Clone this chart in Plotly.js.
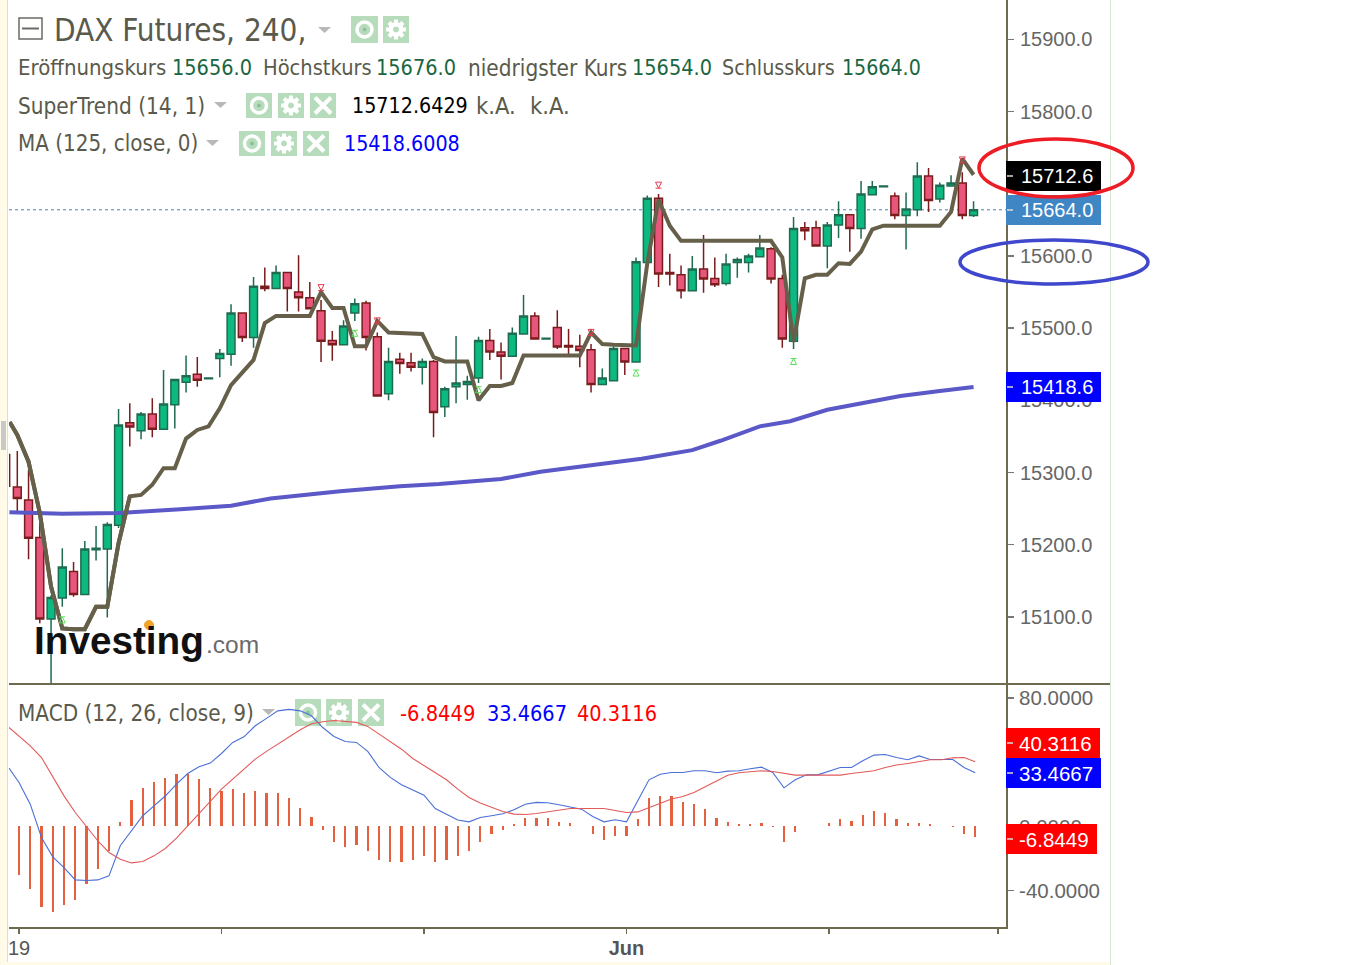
<!DOCTYPE html>
<html><head><meta charset="utf-8">
<script src="https://cdn.plot.ly/plotly-3.0.1.min.js"></script>
<style>html,body{margin:0;padding:0;background:#fff}#c{width:1366px;height:965px}</style>
</head><body><div id="c"></div>
<script>
// ---------- price series (OHLC per 240-minute bar) ----------
const opens=[15280,15262,15210,15097,15126,15163,15131,15193,15194,15227,15369,15358,15381,15360,15394,15425,15436,15430,15458,15464,15521,15487,15558,15555,15577,15550,15542,15524,15483,15477,15521,15535,15488,15409,15457,15452,15446,15454,15391,15419,15422,15431,15483,15467,15461,15492,15517,15485,15501,15476,15475,15470,15422,15427,15472,15453,15591,15680,15577,15574,15552,15582,15569,15562,15591,15591,15599,15610,15569,15482,15639,15639,15614,15643,15657,15638,15685,15696,15683,15656,15664,15711,15679,15697,15701,15656];
const highs=[15330,15304,15230,15130,15195,15176,15205,15226,15231,15388,15396,15384,15403,15442,15429,15462,15460,15431,15471,15533,15521,15571,15584,15587,15577,15601,15564,15539,15496,15511,15541,15538,15494,15473,15466,15466,15458,15456,15419,15489,15434,15488,15499,15480,15501,15546,15522,15486,15525,15499,15491,15478,15444,15475,15472,15598,15684,15686,15603,15587,15600,15629,15598,15603,15598,15603,15629,15612,15574,15654,15647,15649,15647,15676,15657,15704,15704,15697,15688,15688,15730,15722,15702,15712,15716,15676];
const lows=[15246,15180,15091,15008,15114,15128,15131,15178,15099,15223,15336,15346,15349,15360,15361,15411,15419,15430,15432,15448,15481,15473,15551,15555,15523,15523,15527,15453,15455,15477,15510,15469,15406,15400,15437,15440,15422,15349,15377,15396,15401,15424,15456,15429,15461,15492,15485,15485,15471,15462,15446,15411,15422,15427,15435,15453,15591,15557,15559,15541,15552,15549,15557,15559,15570,15577,15599,15562,15473,15471,15622,15614,15583,15625,15606,15624,15685,15696,15651,15609,15655,15661,15674,15697,15651,15654];
const closes=[15264,15209,15097,15127,15169,15131,15194,15195,15228,15366,15363,15381,15360,15395,15429,15434,15428,15431,15465,15521,15487,15558,15555,15577,15555,15542,15527,15482,15477,15503,15534,15487,15406,15454,15451,15446,15454,15383,15416,15424,15426,15483,15467,15461,15493,15517,15485,15486,15474,15474,15469,15422,15431,15472,15453,15592,15680,15575,15575,15552,15582,15568,15560,15589,15595,15600,15611,15568,15485,15638,15635,15614,15643,15657,15638,15686,15696,15697,15656,15665,15711,15677,15698,15701,15656,15664];
const superTrend=[15352,15315,15244,15142,15084,15083,15083,15114,15114,15202,15267,15269,15283,15306,15306,15347,15359,15364,15389,15421,15438,15456,15507,15517,15517,15517,15517,15550,15528,15528,15475,15475,15510,15494,15493,15493,15492,15460,15454,15454,15454,15400,15420,15420,15424,15462,15462,15462,15462,15462,15462,15494,15478,15477,15476,15476,15590,15678,15642,15621,15621,15621,15621,15621,15621,15621,15621,15621,15598,15481,15569,15574,15574,15590,15589,15606,15637,15642,15642,15642,15642,15642,15642,15661,15735,15712.6];
const superTrendLead=15370;
const maBars=[-0.7,1,4,9,10.5,13,14.5,19,22.5,28.7,34,37.5,43,46.5,52,55.5,60,62.5,66,68.7,72,76.7,78.5,82,85];
const maValues=[15245,15244,15243,15244,15245,15247,15249,15254,15264,15274,15281,15284,15291,15301,15312,15319,15331,15344,15364,15371,15387,15400,15406,15413,15418.6];
const edgeWickBar=[-0.68,-0.68];
const edgeWickPrice=[15326,15280];
const upArrowBars=[4,30,41,55,69];
const upArrowPrices=[15100,15497,15419,15442,15458];
const downArrowBars=[27,32,51,57,84];
const downArrowPrices=[15552,15506,15490,15694,15729];
const lastPrice=15664.0;
const priceTicks=[15100,15200,15300,15400,15500,15600,15800,15900];
// ---------- MACD pane ----------
const macdHist=[-30,-38.7,-50,-53.6,-48.9,-45.7,-36,-26.8,-15.2,3.1,16.4,24.3,28,30,32.6,32.6,29.5,24.3,22.2,23.3,20.8,22,20.8,20.8,17.7,11.4,5.8,-2,-9.4,-12.5,-11.4,-15.2,-20.8,-22,-22,-20.8,-18.7,-22,-20.8,-18.5,-15.2,-9.4,-4.6,-2,1.5,5.6,5.6,5.6,3.1,1.9,0,-4.8,-8.3,-5.8,-5.8,4.6,17.5,18.7,18.7,15,14,10.8,5.6,3.1,1.5,1.5,2,-0.6,-9.4,-3.3,0,0,2,4.6,3.5,7,9.4,8.3,4.6,2,2,1.5,0,-0.6,-4.4,-6.8449];
const macdLine=[27.4,13.9,-6.9,-18.9,-25.6,-33.3,-33.7,-33.3,-30.8,-12,-2.7,6.7,12.9,19,26.4,33,37.2,39.5,45.5,52.4,55.9,62.8,67.4,72.1,73,72.1,69,61.7,56.1,53,52.4,46.8,36.8,30.6,26,22.7,19.5,11.2,7.7,4,2.9,5.6,6.7,7.9,10.4,13.9,15,14.8,13.5,12.3,10.8,6.2,2.9,4.2,2.9,16,29.1,32.6,33.7,33.7,34.7,34.7,33.5,34.5,34.7,36,37,33.7,24.1,29.1,32.2,32.2,34.7,36.8,36.8,41,44.5,44.9,43,41.6,44,41.8,41.8,41.8,36.8,33.4667];
const signalLine=[56.5,50.3,43,31.2,19.1,8.7,0,-8.9,-16.2,-20.4,-22.7,-21.8,-18.3,-13.7,-7.3,0.4,8.3,16,23.3,29.5,35.8,42,46.8,51.4,56.1,60.3,64,65.3,66.1,65.7,64.9,62.4,57.6,52.8,48.2,42.4,37.8,33.7,29.1,23.3,18.1,14.6,11.9,9.4,7.7,7.5,8.1,9.1,10.4,11.2,11.2,11.2,11.2,10,8.7,9.1,11.9,14.6,17.1,18.7,21.2,24.7,28.5,32,33.5,33.9,34.7,34.3,33,32,32,32,32,32,33,33.7,34.7,36.8,38.3,39.3,40.5,41.6,41.6,42.8,43,40.3116];
const macdLead=36.4, signalLead=61.7;
const macdTickVals=[80,40,0,-40];
const macdTickText=['80.0000','40.0000','0.0000','-40.0000'];
const timeTickBars=[0,18,36,54,72,87];
const timeTickText=['19','','','<b>Jun</b>','',''];

const bars=opens.map((_,i)=>i);
const W=1366,H=965;
const px=x=>x/W, py=y=>1-y/H;
const AX='#6e6a50', TXT='#5a5a4c', ICON='#b6dcbc', UI='DejaVu Sans Condensed, Noto Sans, sans-serif', NUM='Liberation Sans, Arial, sans-serif';
const ST='#66604a';

const traces=[
 {type:'scatter',mode:'lines',x:edgeWickBar,y:edgeWickPrice,line:{color:'#7a1c1c',width:1.5},xaxis:'x',yaxis:'y',hoverinfo:'skip'},
 {type:'scatter',mode:'lines',x:maBars,y:maValues,line:{color:'#5b58c8',width:4},xaxis:'x',yaxis:'y',hoverinfo:'skip'},
 {type:'scatter',mode:'lines',x:[-0.68].concat(bars),y:[superTrendLead].concat(superTrend),line:{color:ST,width:4},xaxis:'x',yaxis:'y',hoverinfo:'skip'},
 {type:'candlestick',x:bars,open:opens,high:highs,low:lows,close:closes,whiskerwidth:0,
  increasing:{line:{color:'#1f6b50',width:1.5},fillcolor:'#0cb981'},
  decreasing:{line:{color:'#7a1c1c',width:1.5},fillcolor:'#e8567c'},xaxis:'x',yaxis:'y',hoverinfo:'skip'},
 // the falling stretch of the trend line sits in front of the candles
 {type:'scatter',mode:'lines',x:[-0.68].concat(bars.slice(0,11)),y:[superTrendLead].concat(superTrend.slice(0,11)),line:{color:ST,width:4},xaxis:'x',yaxis:'y',hoverinfo:'skip'},
 {type:'scatter',mode:'markers',x:upArrowBars,y:upArrowPrices,marker:{symbol:'arrow-bar-up-open',size:6,color:'#5be05b',line:{color:'#5be05b',width:1}},xaxis:'x',yaxis:'y',hoverinfo:'skip'},
 {type:'scatter',mode:'markers',x:downArrowBars,y:downArrowPrices,marker:{symbol:'arrow-bar-down-open',size:6,color:'#e83a50',line:{color:'#e83a50',width:1}},xaxis:'x',yaxis:'y',hoverinfo:'skip'},
 {type:'bar',x:bars,y:macdHist,width:0.18,marker:{color:'#e4603f',line:{width:0}},xaxis:'x2',yaxis:'y2',hoverinfo:'skip'},
 {type:'scatter',mode:'lines',x:[-0.889].concat(bars),y:[macdLead].concat(macdLine),line:{color:'#4a6fd6',width:1.1},xaxis:'x2',yaxis:'y2',hoverinfo:'skip'},
 {type:'scatter',mode:'lines',x:[-0.889].concat(bars),y:[signalLead].concat(signalLine),line:{color:'#e25a5a',width:1.1},xaxis:'x2',yaxis:'y2',hoverinfo:'skip'}
];

const shapes=[], ann=[];
const rectP=(x0,y0,x1,y1,fill,layer)=>shapes.push({type:'rect',xref:'paper',yref:'paper',x0:px(x0),x1:px(x1),y0:py(y0),y1:py(y1),fillcolor:fill,line:{width:0},layer:layer||'below'});
const lineP=(x0,y0,x1,y1,col,w,layer)=>shapes.push({type:'line',xref:'paper',yref:'paper',x0:px(x0),x1:px(x1),y0:py(y0),y1:py(y1),line:{color:col,width:w},layer:layer||'below'});
const circP=(cx,cy,rx,ry,fill,lc,lw,layer)=>shapes.push({type:'circle',xref:'paper',yref:'paper',x0:px(cx-rx),x1:px(cx+rx),y0:py(cy-ry),y1:py(cy+ry),fillcolor:fill,line:{color:lc,width:lw},layer:layer||'below'});
const tri=(x,y)=>shapes.push({type:'path',xref:'paper',yref:'paper',path:`M ${px(x)} ${py(y)} L ${px(x+13)} ${py(y)} L ${px(x+6.5)} ${py(y+6)} Z`,fillcolor:'#b8b8b8',line:{width:0},layer:'below'});
const txt=(x,y,t,size,col,fam)=>ann.push({xref:'paper',yref:'paper',x:px(x),y:py(y),xanchor:'left',yanchor:'middle',text:t,showarrow:false,font:{size:size,color:col,family:fam||UI},borderpad:0});

// page frame
rectP(0,0,7,965,'#fffbe8'); lineP(7.5,0,7.5,965,'#d8e4c8',1);
lineP(1110.5,0,1110.5,965,'#d6e8d2',1);
rectP(0,962,1110,965,'#fffbe8');
rectP(1,421,6,450,'#c8c8c8');
// icons
function icon(x,y,kind,w,h){rectP(x,y,x+w,y+h,ICON);const cx=x+w/2,cy=y+h/2;
 if(kind==='eye'){circP(cx,cy,7.5,7.5,'rgba(0,0,0,0)','#ffffff',3.5);circP(cx,cy,1.5,1.5,'#8fbf9a','#8fbf9a',1);}
 if(kind==='gear'){lineP(cx-10,cy,cx+10,cy,'#ffffff',4);lineP(cx,cy-10,cx,cy+10,'#ffffff',4);lineP(cx-7,cy-7,cx+7,cy+7,'#ffffff',4);lineP(cx-7,cy+7,cx+7,cy-7,'#ffffff',4);circP(cx,cy,7,7,'#ffffff','#ffffff',1);circP(cx,cy,2.5,2.5,ICON,ICON,1);}
 if(kind==='x'){lineP(cx-8,cy-8,cx+8,cy+8,'#ffffff',4);lineP(cx-8,cy+8,cx+8,cy-8,'#ffffff',4);}
}
icon(351,16,'eye',27,27);icon(383,16,'gear',26,27);
icon(246,93,'eye',26,25);icon(278,93,'gear',26,25);icon(310,93,'x',26,25);
icon(239,131,'eye',26,25);icon(271,131,'gear',26,25);icon(303,131,'x',26,25);
icon(295,699,'eye',26,27);icon(326,699,'gear',26,27);icon(358,699,'x',26,27);
tri(318,27);tri(214,102);tri(206,140);tri(262,709);
// collapse box
shapes.push({type:'rect',xref:'paper',yref:'paper',x0:px(19),x1:px(42),y0:py(18),y1:py(39),line:{color:'#6a6a66',width:1.5},fillcolor:'rgba(0,0,0,0)'});
lineP(22,28.5,39,28.5,'#6a6a66',2,'above');
// last price line
shapes.push({type:'line',xref:'x',yref:'y',x0:-0.738,x1:87.884,y0:lastPrice,y1:lastPrice,line:{color:'#4a7fb5',width:1,dash:'dot'},layer:'below'});
// separators
lineP(9,684,1110,684,AX,2,'above');

// header text
const G='#1a6640';
txt(53,30,'DAX Futures, 240,',31.2,TXT);
txt(17,68,'Eröffnungskurs',22,TXT);txt(170.5,68,'15656.0',21.5,G);
txt(261.5,68,'Höchstkurs',21.7,TXT);txt(375.5,68,'15676.0',21.5,G);
txt(466.5,68,'niedrigster Kurs',22.4,TXT);txt(630.5,68,'15654.0',21.5,G);
txt(720.5,68,'Schlusskurs',21.3,TXT);txt(840.5,68,'15664.0',21.2,G);
txt(16.5,106,'SuperTrend (14, 1)',22.4,TXT);txt(350.5,106,'15712.6429',21.3,'#000000');
txt(475.5,106,'k.A.',23.5,TXT);txt(528.5,106,'k.A.',23.5,TXT);
txt(16.5,143,'MA (125, close, 0)',22.2,TXT);txt(343.5,143,'15418.6008',21.3,'#0000ff');
txt(16.5,713,'MACD (12, 26, close, 9)',22.3,TXT);
txt(398.5,713,'-6.8449',21.7,'#ff0000');txt(485.5,713,'33.4667',21.5,'#0000ff');txt(575.5,713,'40.3116',21.5,'#ff0000');

// logo
txt(33,640,'<b>Investing</b>',38.7,'#111111',NUM);
txt(205,644,'.com',24.5,'#6a6a6a',NUM);
circP(149,625,4.5,4.5,'#f0a428','#f0a428',1,'above');

// price / value flags
function flag(x1,y0,y1,fill,t,tx,fs){rectP(1006,y0,x1,y1,fill,'above');lineP(1007,(y0+y1)/2,1013,(y0+y1)/2,'#dddddd',1.5,'above');txt(tx,(y0+y1)/2,t,fs||20,'#ffffff',NUM);}
flag(1101,161,191,'#000000','15712.6',1019.5);
flag(1101,195,225,'#3f86c4','15664.0',1019.5);
flag(1101,372,402,'#0000ff','15418.6',1019.5);
flag(1100,728,758,'#ff0000','40.3116',1018,20.5);
flag(1101,758,788,'#0000ff','33.4667',1018,20.5);
flag(1097,824,854,'#ff0000','-6.8449',1018,20.5);
// hand-drawn ellipses
circP(1056,168,77,29,'rgba(0,0,0,0)','#ee1c25',3.5,'above');
circP(1054,262,94,22,'rgba(0,0,0,0)','#3f48cc',3.5,'above');

const layout={
 width:W,height:H,margin:{l:0,r:0,t:0,b:0,pad:0},paper_bgcolor:'#ffffff',plot_bgcolor:'rgba(0,0,0,0)',
 showlegend:false,boxgap:0.3,boxgroupgap:0,bargap:0,dragmode:false,
 xaxis:{domain:[px(9),px(1006)],range:[-0.738,87.884],anchor:'y',showticklabels:false,ticks:'',showgrid:false,zeroline:false,rangeslider:{visible:false},showline:false,fixedrange:true},
 xaxis2:{domain:[px(9),px(1006)],range:[-0.889,87.733],anchor:'y2',tickmode:'array',tickvals:timeTickBars,ticktext:timeTickText,ticks:'outside',ticklen:5,tickwidth:1.5,tickcolor:AX,ticklabelstandoff:-3,showgrid:false,zeroline:false,showline:true,linecolor:AX,linewidth:2,tickfont:{family:NUM,size:20,color:'#555555'},fixedrange:true},
 yaxis:{domain:[py(684),1],range:[15007,15954.7],anchor:'x',side:'right',tickmode:'array',tickvals:priceTicks,ticktext:priceTicks.map(v=>v.toFixed(1)),ticks:'outside',ticklen:6,tickwidth:1.5,tickcolor:'#777777',ticklabelstandoff:2,showgrid:false,zeroline:false,showline:true,linecolor:AX,linewidth:2,tickfont:{family:NUM,size:20,color:'#666666'},fixedrange:true},
 yaxis2:{domain:[py(927),py(685)],range:[-62.66,88.2],anchor:'x2',side:'right',tickmode:'array',tickvals:macdTickVals,ticktext:macdTickText,ticks:'outside',ticklen:6,tickwidth:1.5,tickcolor:'#777777',ticklabelstandoff:1,showgrid:false,zeroline:false,showline:true,linecolor:AX,linewidth:2,tickfont:{family:NUM,size:20.5,color:'#666666'},fixedrange:true},
 shapes:shapes,annotations:ann
};
Plotly.newPlot('c',traces,layout,{displayModeBar:false,staticPlot:true});
</script></body></html>
